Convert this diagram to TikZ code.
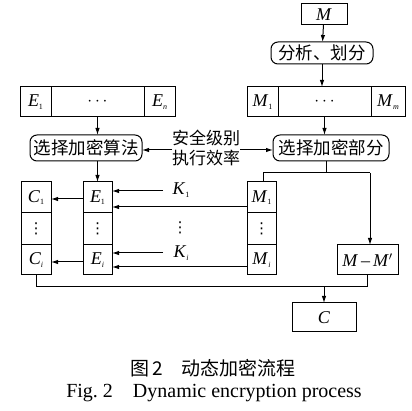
\documentclass[tikz,border=0pt]{standalone}
\usepackage{fontspec}
\setmainfont{Liberation Serif}
\newfontfamily\cjk{Noto Sans CJK SC}
\newfontfamily\dejavu{DejaVu Sans}
\usetikzlibrary{arrows.meta}
\newcommand{\vv}[2]{\textit{#1}\raisebox{-0.3ex}{\fontsize{8}{9}\selectfont #2}}
\begin{document}
\begin{tikzpicture}[x=1pt,y=-1pt,
  every node/.style={inner sep=0pt,outer sep=0pt},
  box/.style={draw,line width=1pt,font=\fontsize{18}{20}\selectfont},
  rbox/.style={draw,line width=1pt,rounded corners=7pt,font=\cjk\fontsize{17.5}{20}\selectfont},
  vd/.style={font=\dejavu\fontsize{15}{15}\selectfont},
  conn/.style={line width=1pt},
  arr/.style={line width=1pt,-{Latex[length=7pt,width=4.5pt]}}]
\useasboundingbox (0,0) rectangle (412,411);
% top
\node[box,minimum width=46pt,minimum height=21pt] (M) at (324,14.5) {\textit{M}};
\node[rbox,minimum width=102pt,minimum height=22pt] (fx) at (322,53) {分析、划分};
% E row
\node[box,minimum width=31pt,minimum height=30pt] (E1r) at (35.5,102) {\vv{E}{1}};
\node[box,minimum width=93pt,minimum height=30pt] (Edr) at (97.5,102) {$\cdots$};
\node[box,minimum width=31pt,minimum height=30pt] (Enr) at (159.5,102) {\vv{E}{\textit{n}}};
% M row
\node[box,minimum width=31pt,minimum height=30pt] (M1r) at (262.5,102) {\vv{M}{1}};
\node[box,minimum width=93pt,minimum height=30pt] (Mdr) at (324.5,102) {$\cdots$};
\node[box,minimum width=34pt,minimum height=30pt] (Mmr) at (388,102) {\vv{M}{\textit{m}}};
% selection boxes
\node[rbox,minimum width=112pt,minimum height=26pt] (alg) at (86,148) {选择加密算法};
\node[rbox,minimum width=116pt,minimum height=26pt] (part) at (331,148) {选择加密部分};
\node[align=center,font=\cjk\fontsize{17}{20}\selectfont] (mid) at (206,148) {安全级别\\执行效率};
% columns
\node[box,minimum width=30pt,minimum height=31pt] (C1) at (36,197.5) {\vv{C}{1}};
\node[box,vd,minimum width=30pt,minimum height=32pt] (Cd) at (36,229) {⋮};
\node[box,minimum width=30pt,minimum height=30pt] (Ci) at (36,260) {\vv{C}{\textit{i}}};
\node[box,minimum width=29pt,minimum height=31pt] (E1) at (97.5,197.5) {\vv{E}{1}};
\node[box,vd,minimum width=29pt,minimum height=32pt] (Ed) at (97.5,229) {⋮};
\node[box,minimum width=29pt,minimum height=30pt] (Ei) at (97.5,260) {\vv{E}{\textit{i}}};
\node[box,minimum width=29pt,minimum height=31pt] (M1) at (261.5,197.5) {\vv{M}{1}};
\node[box,vd,minimum width=29pt,minimum height=32pt] (Md) at (261.5,229) {⋮};
\node[box,minimum width=29pt,minimum height=30pt] (Mi) at (261.5,260) {\vv{M}{\textit{i}}};
\node[box,minimum width=61pt,minimum height=30pt] (MM) at (367.5,260) {\textit{M}\,\textendash\,\textit{M}$'$};
\node[box,minimum width=64pt,minimum height=29pt] (C) at (324,317.5) {\textit{C}};
% keys
\node[font=\fontsize{18}{20}\selectfont] (K1) at (181,190) {\vv{K}{1}};
\node[vd] (Kd) at (180,228) {⋮};
\node[font=\fontsize{18}{20}\selectfont] (Ki) at (181,253) {\vv{K}{\textit{i}}};
\coordinate (K1s) at (163,191);
\coordinate (Kis) at (163,253);
% connectors
\draw[arr] (M) -- (fx);
\draw[arr] (fx) -- (fx |- Mdr.north);
\draw[arr] (Edr.south) -- (Edr.south |- alg.north);
\draw[arr] (Mdr.south) -- (Mdr.south |- part.north);
\draw[arr] (mid.west |- 0,150) -- (alg.east |- 0,150);
\draw[arr] (mid.east |- 0,150) -- (part.west |- 0,150);
\draw[arr] (alg.south -| E1.north) -- (E1.north);
\coordinate (sp) at (326,173);
\draw[conn] (part.south -| sp) -- (sp);
\draw[conn] (263,173) -- (370,173);
\draw[conn] (263,173) -- (263,182);
\draw[arr] (370,173) -- (MM.north -| 370,0);
\draw[arr] (E1.west |- 0,199) -- (C1.east |- 0,199);
\draw[arr] (Ei.west |- 0,262) -- (Ci.east |- 0,262);
\draw[arr] (K1s) -- (E1.east |- K1s);
\draw[arr] (M1.west |- 0,207) -- (E1.east |- 0,207);
\draw[arr] (Kis) -- (Ei.east |- Kis);
\draw[arr] (Mi.west |- 0,267) -- (Ei.east |- 0,267);
\draw[conn] (Ci.south) -- (Ci.south |- 0,287) -- (MM.south |- 0,287) -- (MM.south);
\draw[arr] (C.north |- 0,287) -- (C.north);
% caption
\node[font=\cjk\fontsize{19}{21}\selectfont] (cap1) at (213,368) {图\,2\quad 动态加密流程};
\node[font=\fontsize{20}{22}\selectfont] (cap2) at (214,393) {Fig.\ 2\quad Dynamic encryption process};
\end{tikzpicture}
\end{document}
